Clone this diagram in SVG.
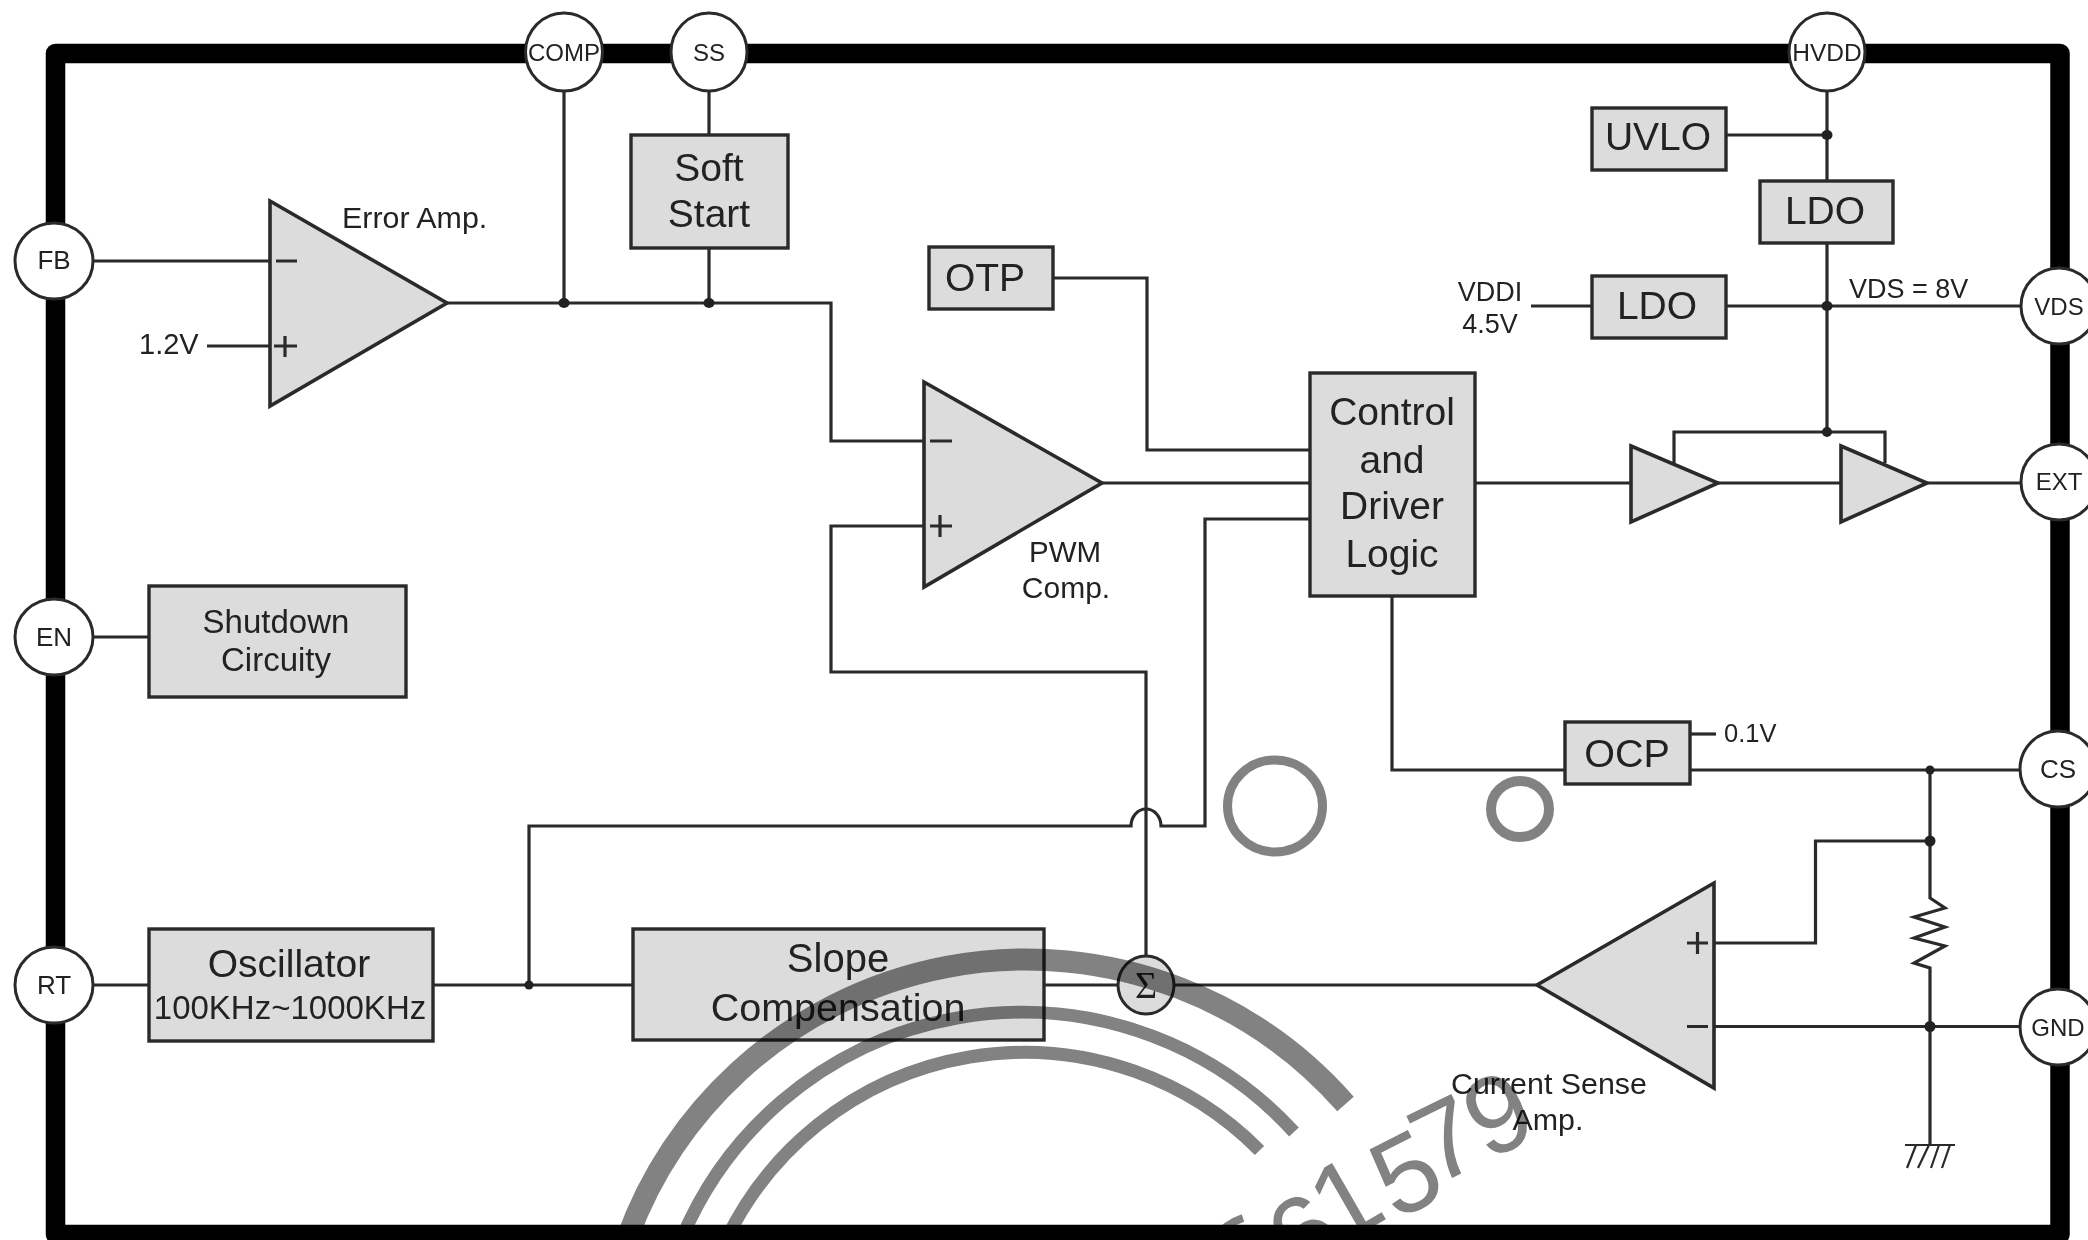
<svg xmlns="http://www.w3.org/2000/svg" width="2088" height="1240" viewBox="0 0 2088 1240">
<style>
text{font-family:"Liberation Sans",Arial,sans-serif;fill:#222;text-anchor:middle}
.b{fill:#dcdcdc;stroke:#2a2a2a;stroke-width:3.4}
.p{fill:#fff;stroke:#2a2a2a;stroke-width:3}
.w{fill:none;stroke:#2a2a2a;stroke-width:3.2}
.h{fill:none;stroke:#2a2a2a;stroke-width:2.2}
.t{fill:#dcdcdc;stroke:#2a2a2a;stroke-width:3.6;stroke-linejoin:miter}
.d{fill:#222}
.f39{font-size:39px}.f33{font-size:33px}.f30{font-size:30.400px}.f27{font-size:27px}.f24{font-size:24px}
.l{text-anchor:start}
.wm{fill:none;stroke:#828282}
.wt{fill:#828282;font-size:110px}
</style>
<rect id="frame" x="55.500" y="53.500" width="2004.500" height="1181" fill="none" stroke="#000" stroke-width="19.500" stroke-linejoin="round"/>
<g id="connectors">
<path class="w" d="M93 261H270"/>
<path class="w" d="M207 346H270"/>
<path class="w" d="M447 303H831V441H924"/>
<path class="w" d="M564 91V303"/>
<path class="w" d="M709 91V135M709 248V303"/>
<path class="w" d="M1053 278H1147V450H1310"/>
<path class="w" d="M1102 483H1310"/>
<path class="w" d="M924 526H831V672H1146V956"/>
<path class="w" d="M529 985V826H1131A15 17 0 0 1 1161 826H1205V519H1310"/>
<path class="w" d="M93 637H148"/>
<path class="w" d="M93 985H148"/>
<path class="w" d="M433 985H633"/>
<path class="w" d="M1044 985H1118M1174 985H1537"/>
<path class="w" d="M1726 135H1827M1827 91V181M1827 243V432"/>
<path class="w" d="M1531 306H1592M1726 306H2021"/>
<path class="w" d="M1674 463V432H1885V463"/>
<path class="w" d="M1475 483H1631M1718 483H1841M1927 483H2021"/>
<path class="w" d="M1392 597V770H1565M1690 770H2020"/>
<path class="w" d="M1690 734H1716"/>
<path class="w" d="M1930 770V898L1945 908L1914 917L1945 927L1914 938L1945 946L1914 963L1930 968V1145"/>
<path class="w" d="M1930 841H1815.500V943H1714"/>
<path class="w" d="M1714 1026.500H2020"/>
<path class="h" d="M1905 1145H1955M1916 1145L1907 1168M1929 1145L1918 1168M1939 1145L1931 1168M1950 1145L1942 1168"/>
<ellipse class="d" cx="564" cy="303" rx="5.500" ry="5"/>
<ellipse class="d" cx="709" cy="303" rx="5.500" ry="5"/>
<ellipse class="d" cx="529" cy="985" rx="4.500" ry="4.500"/>
<ellipse class="d" cx="1827" cy="135" rx="5.500" ry="5"/>
<ellipse class="d" cx="1827" cy="306" rx="5.500" ry="5"/>
<ellipse class="d" cx="1827" cy="432" rx="5" ry="5"/>
<ellipse class="d" cx="1930" cy="770" rx="4.500" ry="4.500"/>
<ellipse class="d" cx="1930" cy="841" rx="5.500" ry="5.500"/>
<ellipse class="d" cx="1930" cy="1026.500" rx="5.500" ry="5.500"/>
</g>
<g id="pin-comp"><ellipse class="p" cx="564" cy="52" rx="38.500" ry="39"/><text class="f24" x="564" y="61">COMP</text></g>
<g id="pin-ss"><ellipse class="p" cx="709" cy="52" rx="38" ry="39"/><text class="f24" x="709" y="61">SS</text></g>
<g id="pin-hvdd"><ellipse class="p" cx="1827" cy="52" rx="38" ry="39"/><text style="font-size:24.500px" x="1827" y="61">HVDD</text></g>
<g id="pin-fb"><ellipse class="p" cx="54" cy="261" rx="39" ry="38"/><text style="font-size:26px" x="54" y="269">FB</text></g>
<g id="pin-en"><ellipse class="p" cx="54" cy="637" rx="39" ry="38"/><text style="font-size:26px" x="54" y="646">EN</text></g>
<g id="pin-rt"><ellipse class="p" cx="54" cy="985" rx="39" ry="38"/><text style="font-size:26px" x="54" y="994">RT</text></g>
<g id="pin-vds"><ellipse class="p" cx="2059" cy="306" rx="38" ry="38"/><text style="font-size:24px" x="2059" y="315">VDS</text></g>
<g id="pin-ext"><ellipse class="p" cx="2059" cy="482" rx="38" ry="38"/><text style="font-size:24px" x="2059" y="490">EXT</text></g>
<g id="pin-cs"><ellipse class="p" cx="2058" cy="769" rx="38" ry="38"/><text style="font-size:26px" x="2058" y="778">CS</text></g>
<g id="pin-gnd"><ellipse class="p" cx="2058" cy="1027" rx="38" ry="38"/><text style="font-size:24px" x="2058" y="1036">GND</text></g>
<g id="error-amp"><polygon class="t" points="270,201 447,303 270,406"/><path class="w" d="M276 261H297M274 346H297M285 336V357"/><text class="f30 l" x="342" y="228">Error Amp.</text></g>
<text id="label-12v" class="l" style="font-size:29px" x="139" y="354">1.2V</text>
<g id="soft-start"><rect class="b" x="631" y="135" width="157" height="113"/><text class="f39" x="709" y="181">Soft</text><text class="f39" x="709" y="227">Start</text></g>
<g id="otp"><rect class="b" x="929" y="247" width="124" height="62"/><text class="f39" x="985" y="291">OTP</text></g>
<g id="pwm-comp"><polygon class="t" points="924,382 1102,483 924,587"/><path class="w" d="M930 441H952M930 526H952M940 515V537"/><text style="font-size:29.500px" x="1065" y="562">PWM</text><text style="font-size:30px" x="1066" y="598">Comp.</text></g>
<g id="control-logic"><rect class="b" x="1310" y="373" width="165" height="223"/><text class="f39" x="1392" y="425">Control</text><text class="f39" x="1392" y="473">and</text><text class="f39" x="1392" y="519">Driver</text><text class="f39" x="1392" y="567">Logic</text></g>
<g id="uvlo"><rect class="b" x="1592" y="108" width="134" height="62"/><text class="f39" x="1658" y="150">UVLO</text></g>
<g id="ldo-top"><rect class="b" x="1760" y="181" width="133" height="62"/><text class="f39" x="1825" y="224">LDO</text></g>
<g id="ldo-mid"><rect class="b" x="1592" y="276" width="134" height="62"/><text class="f39" x="1657" y="319">LDO</text></g>
<g id="label-vddi"><text class="f27" x="1490" y="301">VDDI</text><text class="f27" x="1490" y="333">4.5V</text></g>
<text id="label-vds" class="f27 l" x="1849" y="298">VDS = 8V</text>
<g id="buffer-1"><polygon class="t" points="1631,446 1718,483 1631,522"/></g>
<g id="buffer-2"><polygon class="t" points="1841,446 1927,483 1841,522"/></g>
<g id="shutdown"><rect class="b" x="149" y="586" width="257" height="111"/><text class="f33" x="276" y="633">Shutdown</text><text class="f33" x="276" y="671">Circuity</text></g>
<g id="oscillator"><rect class="b" x="149" y="929" width="284" height="112"/><text class="f39" x="289" y="977">Oscillator</text><text class="f33" x="290" y="1019">100KHz~1000KHz</text></g>
<g id="slope"><rect class="b" x="633" y="929" width="411" height="111"/><text style="font-size:40px" x="838" y="972">Slope</text><text style="font-size:39.500px" x="838" y="1021">Compensation</text></g>
<g id="sum"><ellipse class="b" style="stroke-width:3" cx="1146" cy="985" rx="28" ry="29"/><text style="font-family:'Liberation Serif',serif;font-size:38px" x="1146" y="998">Σ</text></g>
<g id="ocp"><rect class="b" x="1565" y="722" width="125" height="62"/><text style="font-size:39.500px" x="1627" y="767">OCP</text></g>
<text id="label-01v" class="l" style="font-size:25.500px" x="1724" y="742">0.1V</text>
<g id="current-amp"><polygon class="t" points="1714,883 1537,985 1714,1088"/><path class="w" d="M1687 943H1708M1697.500 932V954M1687 1026.500H1708"/><text class="f30" x="1549" y="1094">Current Sense</text><text class="f30" x="1548" y="1130">Amp.</text></g>
<g id="watermark" style="mix-blend-mode:multiply">
<path class="wm" stroke-width="22" d="M626.500 1240A425 425 0 0 1 1345.500 1104"/>
<path class="wm" stroke-width="13" d="M681 1240A369 369 0 0 1 1294 1132"/>
<path class="wm" stroke-width="13" d="M726 1240A331 331 0 0 1 1259.500 1150.500"/>
<ellipse class="wm" stroke-width="9" cx="1275" cy="806" rx="47.500" ry="46"/>
<ellipse class="wm" stroke-width="10" cx="1520" cy="809" rx="29" ry="28"/>
<path class="wm" stroke-width="8" d="M1213 1240Q1225 1224 1243 1218"/>
<text class="wt" transform="translate(1326 1266) rotate(-35)">6</text>
<text class="wt" transform="translate(1364 1232) rotate(-30)">1</text>
<text class="wt" transform="translate(1423 1207) rotate(-27)">5</text>
<text class="wt" transform="translate(1462 1173) rotate(-26)">7</text>
<text class="wt" transform="translate(1514 1148) rotate(-25)">9</text>
</g>
</svg>
